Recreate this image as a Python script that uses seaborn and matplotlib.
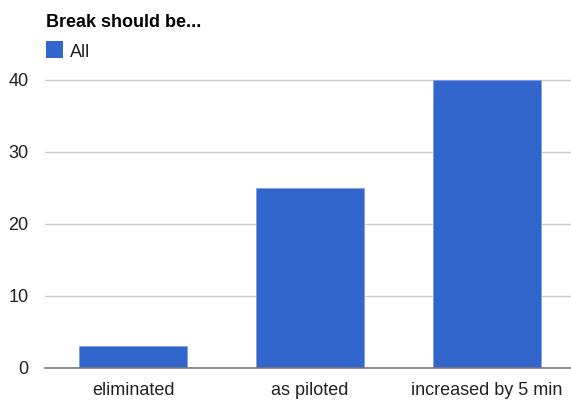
import matplotlib
matplotlib.use("Agg")
import matplotlib.pyplot as plt
import seaborn as sns
import pandas as pd

# Survey responses: how the break should change
categories = ["eliminated", "as piloted", "increased by 5 min"]
counts = [3, 25, 40]
series_name = "All"
y_ticks = [0, 10, 20, 30, 40]
title = "Break should be..."

df = pd.DataFrame({"choice": categories, "count": counts, "group": series_name})

sns.set_theme(style="white")
plt.rcParams["font.family"] = ["Liberation Sans", "DejaVu Sans"]

fig = plt.figure(figsize=(5.71, 4.0), dpi=100)
ax = fig.add_axes([45 / 571, 32 / 400, 526 / 571, (368 - 72.8) / 400])

sns.barplot(data=df, x="choice", y="count", hue="group", palette=["#3366CC"],
            width=0.61, saturation=1, ax=ax, legend=False,
            edgecolor="#7f9fe0", linewidth=0.6)

ax.set_ylim(0, 41)
ax.set_xlim(-0.5, 2.476)
ax.set_yticks(y_ticks)
ax.yaxis.grid(True, color="#cccccc", linewidth=1)
ax.set_axisbelow(True)
for side in ["top", "right", "left"]:
    ax.spines[side].set_visible(False)
ax.spines["bottom"].set_color("#777777")
ax.spines["bottom"].set_linewidth(1.2)
ax.spines["bottom"].set_zorder(5)
ax.tick_params(axis="y", length=0, pad=12, labelsize=13, labelcolor="#222222")
ax.tick_params(axis="x", length=0, pad=10, labelsize=13, labelcolor="#222222")
ax.set_xlabel("")
ax.set_ylabel("")

fig.text(46 / 571, 1 - 27 / 400, title, fontsize=13, fontweight="bold",
         color="#000000", ha="left", va="baseline")

# Legend: a single square swatch with its series name
fig.patches.append(plt.Rectangle((46 / 571, 1 - 58 / 400), 17 / 571, 17 / 400,
                                 transform=fig.transFigure, facecolor="#3366CC",
                                 edgecolor="none", figure=fig))
fig.text(70 / 571, 1 - 57 / 400, series_name, fontsize=13, color="#222222",
         ha="left", va="baseline")

fig.savefig("out.png", dpi=100)
